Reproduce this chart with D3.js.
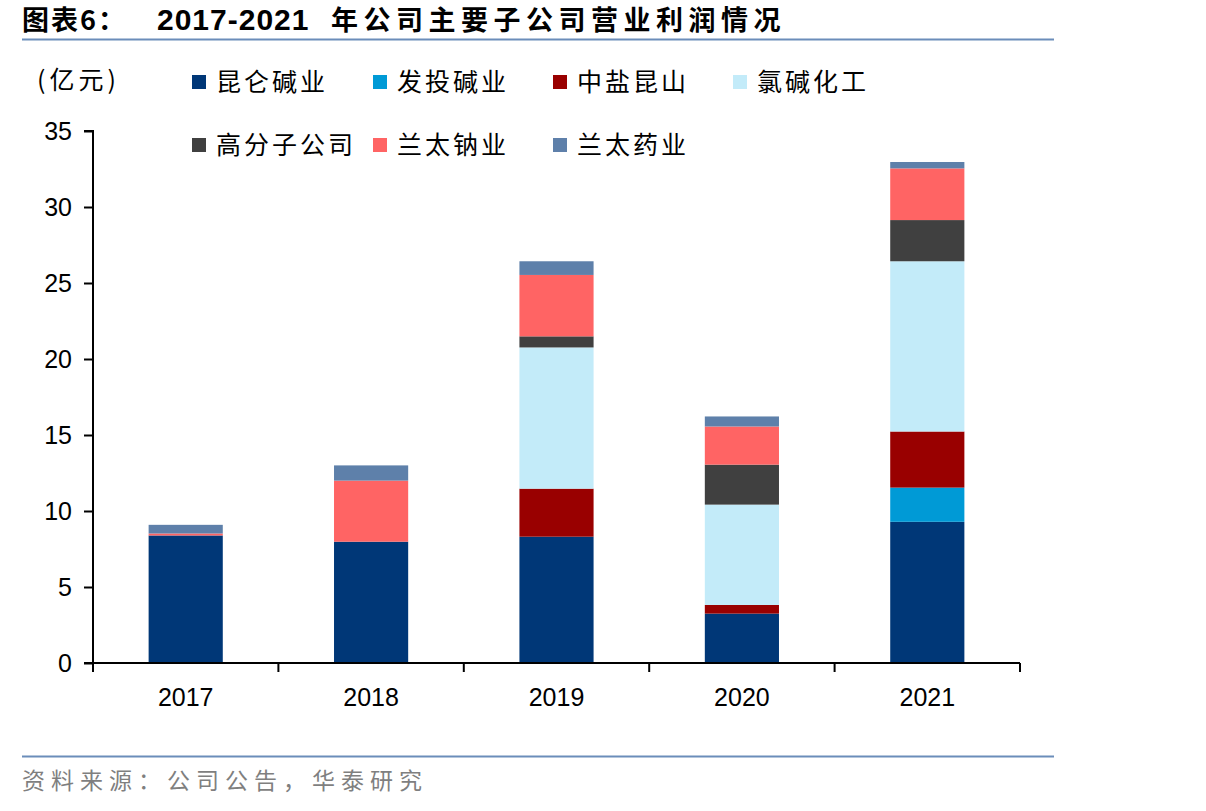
<!DOCTYPE html>
<html>
<head>
<meta charset="utf-8">
<script src="https://cdn.jsdelivr.net/npm/d3@7"></script>
<style>
  body { margin: 0; background: #fff; }
  svg { display: block; }
</style>
</head>
<body>
<div class="chart"></div>
<script>
// 2017-2021 subsidiary operating profit, stacked bars
const years = ["2017", "2018", "2019", "2020", "2021"];
const series = ["昆仑碱业", "发投碱业", "中盐昆山", "氯碱化工", "高分子公司", "兰太钠业", "兰太药业"];
const colors = ["#003777", "#009AD6", "#990000", "#C3EBF9", "#404040", "#FF6464", "#5E80AA"];

// values per series, one per year (亿元)
const kunlun   = [8.39, 7.98, 8.31, 3.25, 9.29];
const fatou    = [0, 0, 0, 0, 2.25];
const zhongyan = [0, 0, 3.16, 0.57, 3.69];
const lvjian   = [0, 0, 9.29, 6.60, 11.20];
const gaofenzi = [0, 0, 0.73, 2.63, 2.71];
const natrium  = [0.13, 4.02, 4.04, 2.51, 3.40];
const yaoye    = [0.57, 1.00, 0.90, 0.66, 0.42];
const yTicks = [0, 5, 10, 15, 20, 25, 30, 35];

const values = [kunlun, fatou, zhongyan, lvjian, gaofenzi, natrium, yaoye];
const rows = years.map((y, i) => {
  const r = { year: y };
  series.forEach((s, k) => r[s] = values[k][i]);
  return r;
});

const W = 1206, H = 811;
const svg = d3.select(".chart").append("svg")
  .attr("width", W).attr("height", H);

const cjk = "'Noto Sans CJK SC', 'Noto Sans', sans-serif";
const latin = "'Liberation Sans', Arial, sans-serif";

// title + rules
const title = svg.append("text")
  .attr("y", 30)
  .attr("font-weight", "bold")
  .attr("font-size", 27)
  .attr("fill", "#000");
title.append("tspan").attr("x", 22).attr("font-family", cjk).attr("letter-spacing", 2).text("图表6：");
title.append("tspan").attr("x", 157).attr("font-family", latin).attr("font-size", 30).attr("letter-spacing", 1).text("2017-2021");
title.append("tspan").attr("x", 331).attr("font-family", cjk).attr("letter-spacing", 5.5).text("年公司主要子公司营业利润情况");

svg.append("line")
  .attr("x1", 22).attr("x2", 1054).attr("y1", 39.5).attr("y2", 39.5)
  .attr("stroke", "#6B8DBA").attr("stroke-width", 2);

svg.append("line")
  .attr("x1", 22).attr("x2", 1054).attr("y1", 756.5).attr("y2", 756.5)
  .attr("stroke", "#6B8DBA").attr("stroke-width", 2);

svg.append("text")
  .attr("x", 22).attr("y", 789)
  .attr("font-family", cjk)
  .attr("font-size", 23)
  .attr("letter-spacing", 6)
  .attr("fill", "#7f7f7f")
  .text("资料来源：公司公告，华泰研究");

// unit
svg.append("text")
  .attr("x", 37).attr("y", 89)
  .attr("font-family", cjk)
  .attr("font-size", 25)
  .attr("letter-spacing", 4)
  .attr("fill", "#000")
  .text("(亿元)");

// scales
const x = d3.scaleBand().domain(years).range([93, 1020]).paddingInner(0.6).paddingOuter(0.3);
const y = d3.scaleLinear().domain([0, 35]).range([663, 131]);

const stack = d3.stack().keys(series)(rows);

svg.append("g")
  .selectAll("g")
  .data(stack)
  .join("g")
  .attr("fill", (d, i) => colors[i])
  .selectAll("rect")
  .data(d => d)
  .join("rect")
  .attr("x", d => x(d.data.year))
  .attr("width", x.bandwidth())
  .attr("y", d => y(d[1]))
  .attr("height", d => y(d[0]) - y(d[1]));

// y axis
const yAxis = svg.append("g")
  .attr("transform", "translate(93,0)")
  .call(d3.axisLeft(y).tickValues(yTicks).tickSize(9).tickPadding(12));
yAxis.select(".domain").attr("stroke", "#000").attr("stroke-width", 2)
  .attr("d", "M-9," + y(35) + "H0V" + (y(0) + 9));
yAxis.selectAll(".tick line").attr("stroke", "#000").attr("stroke-width", 2);
yAxis.selectAll(".tick text")
  .attr("font-family", latin).attr("font-size", 25).attr("fill", "#000");

// x axis with boundary ticks
const bounds = [93].concat(years.map(d => x(d) + x.bandwidth() / 2 + x.step() / 2));
const xAxis = svg.append("g");
xAxis.append("line")
  .attr("x1", 84).attr("x2", 1020).attr("y1", y(0)).attr("y2", y(0))
  .attr("stroke", "#000").attr("stroke-width", 2);
xAxis.selectAll("line.bt")
  .data(bounds.slice(1))
  .join("line")
  .attr("class", "bt")
  .attr("x1", d => d).attr("x2", d => d)
  .attr("y1", y(0)).attr("y2", y(0) + 9)
  .attr("stroke", "#000").attr("stroke-width", 2);
xAxis.selectAll("text")
  .data(years)
  .join("text")
  .attr("x", d => x(d) + x.bandwidth() / 2)
  .attr("y", 706)
  .attr("text-anchor", "middle")
  .attr("font-family", latin).attr("font-size", 25).attr("fill", "#000")
  .text(d => d);

// legend
const legendPos = [[192, 82], [373, 82], [553, 82], [733, 82], [192, 145], [373, 145], [553, 145]];
const lg = svg.append("g")
  .selectAll("g")
  .data(series)
  .join("g")
  .attr("transform", (d, i) => "translate(" + legendPos[i][0] + "," + legendPos[i][1] + ")");
lg.append("rect")
  .attr("x", 0).attr("y", -7).attr("width", 14).attr("height", 14)
  .attr("fill", (d, i) => colors[i]);
lg.append("text")
  .attr("x", 24).attr("y", 9)
  .attr("font-family", cjk).attr("font-size", 25)
  .attr("letter-spacing", 3)
  .attr("fill", "#000")
  .text(d => d);
</script>
</body>
</html>
